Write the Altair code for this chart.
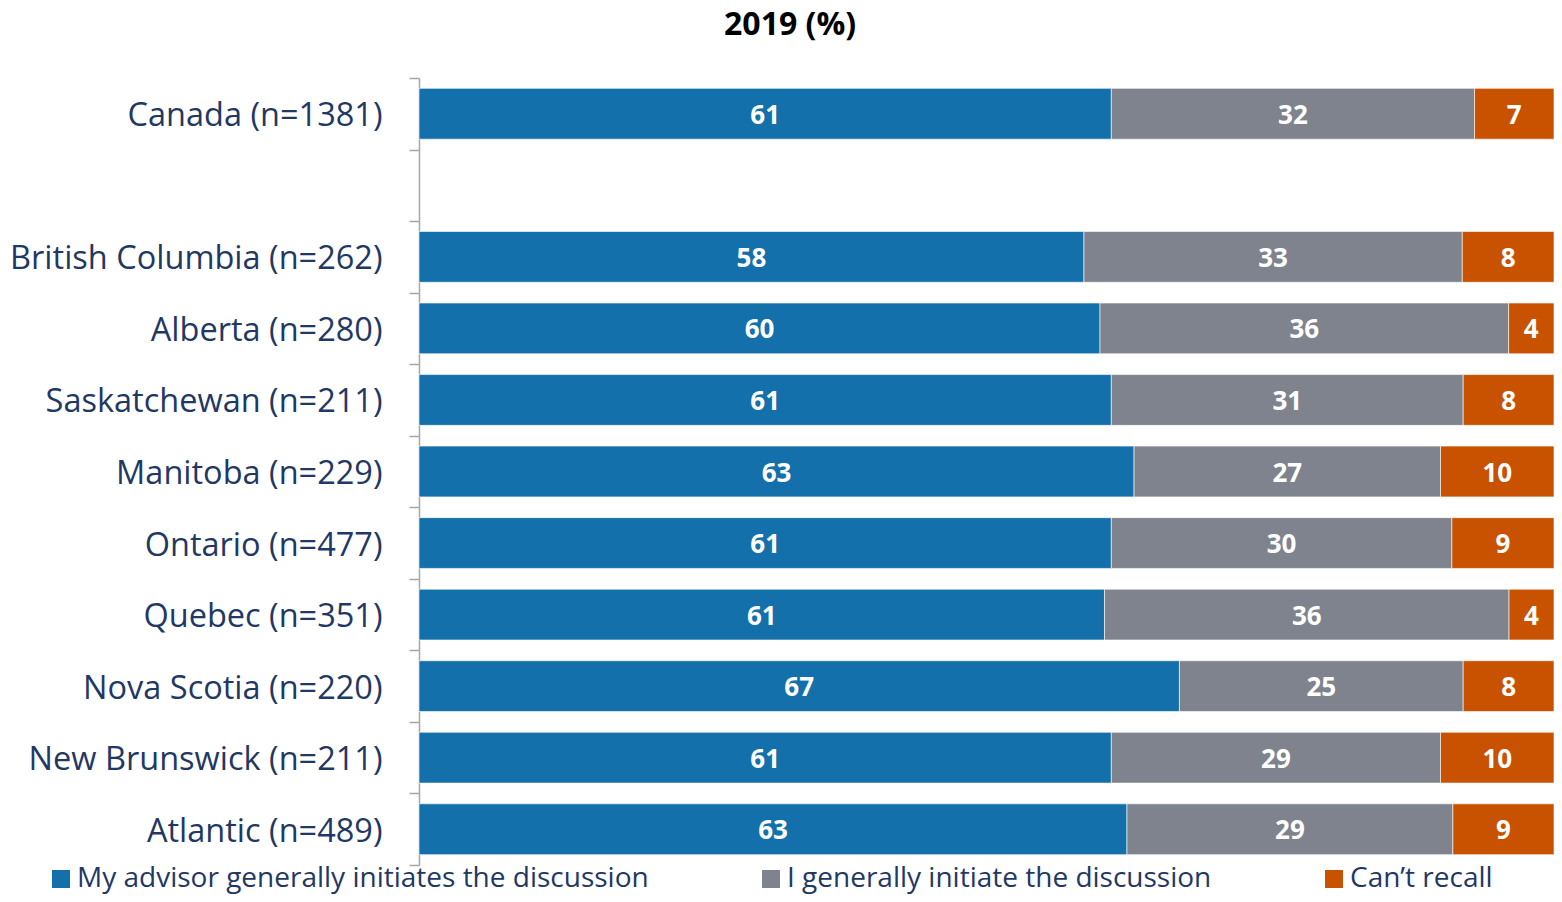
import altair as alt
import pandas as pd

regions = ["Canada (n=1381)", " ", "British Columbia (n=262)", "Alberta (n=280)",
           "Saskatchewan (n=211)", "Manitoba (n=229)", "Ontario (n=477)",
           "Quebec (n=351)", "Nova Scotia (n=220)", "New Brunswick (n=211)",
           "Atlantic (n=489)"]
data_regions = [r for r in regions if r.strip()]
advisor = [61, 58, 60, 61, 63, 61, 61, 67, 61, 63]
self_init = [32, 33, 36, 31, 27, 30, 36, 25, 29, 29]
cant_recall = [7, 8, 4, 8, 10, 9, 4, 8, 10, 9]
series = ["My advisor generally initiates the discussion",
          "I generally initiate the discussion", "Can\u2019t recall"]
colors = ["#1470AA", "#7F838D", "#C85200"]

rows = []
for i, r in enumerate(data_regions):
    for k, vals in enumerate([advisor, self_init, cant_recall]):
        rows.append({"region": r, "series": series[k], "value": vals[i], "order": k})
df = pd.DataFrame(rows)

FONT = "Open Sans"
TEXT_COLOR = "#1F3864"

base = alt.Chart(df).transform_stack(
    stack="value", groupby=["region"], as_=["x0", "x1"], offset="normalize",
    sort=[alt.SortField("order", order="ascending")]
).transform_calculate(mid="(datum.x0 + datum.x1) / 2")

yenc = alt.Y("region:N", sort=regions, title=None,
             scale=alt.Scale(domain=regions, paddingInner=0, paddingOuter=0),
             axis=alt.Axis(labelFont=FONT, labelFontSize=32.5, labelColor=TEXT_COLOR,
                           labelPadding=27, labelOffset=2, tickSize=10,
                           tickColor="#A6A6A6", tickWidth=1.5, domainColor="#A6A6A6",
                           domainWidth=1.5, tickBand="extent", labelLimit=1000,
                           grid=False))

bars = base.mark_bar(stroke="#FFFFFF", strokeWidth=1, strokeOpacity=0.6,
                     height=alt.RelativeBandSize(0.71)).encode(
    x=alt.X("x0:Q", scale=alt.Scale(domain=[0, 1], nice=False, zero=False), axis=None),
    x2="x1:Q",
    y=yenc,
    color=alt.Color("series:N", scale=alt.Scale(domain=series, range=colors),
                    legend=alt.Legend(orient="none", legendX=-372, legendY=787,
                                      direction="horizontal", title=None,
                                      symbolType="square", symbolSize=324,
                                      symbolStrokeWidth=0, labelFont=FONT,
                                      labelFontSize=28, labelColor=TEXT_COLOR,
                                      labelOffset=2, columnPadding=108,
                                      labelLimit=1000)),
    order=alt.Order("order:Q"),
)

labels = base.mark_text(font=FONT, fontWeight="bold", fontSize=26, color="white",
                        baseline="middle", align="center", dy=2).encode(
    x=alt.X("mid:Q"),
    y=alt.Y("region:N", sort=regions),
    text=alt.Text("value:Q"),
)

chart = alt.layer(bars, labels).properties(
    width=1135, height=787,
    title=alt.Title("2019 (%)", font=FONT, fontSize=32, fontWeight="bold",
                    color="black", anchor="middle", frame="bounds", offset=20, dx=8),
    autosize=alt.AutoSizeParams(type="none"),
    padding={"left": 411, "top": 70, "right": 0, "bottom": 29},
).configure_view(stroke=None)

chart.save("out.html", embed_options={"renderer": "svg", "actions": False})
